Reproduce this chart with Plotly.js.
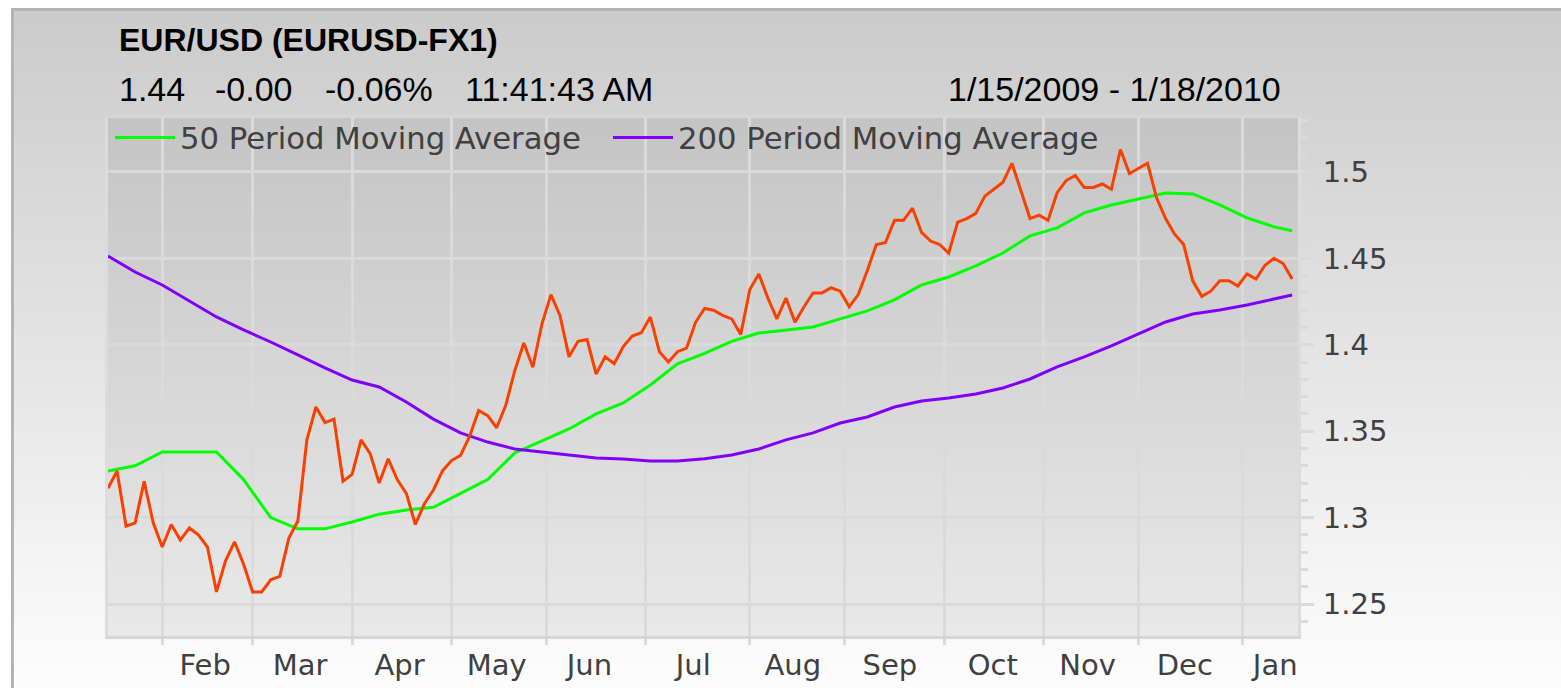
<!DOCTYPE html>
<html>
<head>
<meta charset="utf-8">
<script src="https://cdn.plot.ly/plotly-3.0.1.min.js"></script>
<style>
    html, body { margin: 0; padding: 0; background: #fff; overflow: hidden; }
    #frame {
        position: absolute; left: 11px; top: 8px; width: 1600px; height: 680px;
        border-left: 3px solid #b4b4b4; border-top: 3px solid #b4b4b4;
        background: linear-gradient(#cbcbcb, #fdfdfd);
    }
    #plotbg {
        position: absolute; left: 108px; top: 118px; width: 1190px; height: 518px;
        background: linear-gradient(#c4c4c4, #e9e9e9);
    }
    #chart { position: absolute; left: 0; top: 0; width: 1561px; height: 688px; }
</style>
</head>
<body>
<div id="frame"></div>
<div id="plotbg"></div>
<div id="chart"></div>
<script>
// EUR/USD close, one value every second trading day starting 1/15/2009
const priceStep = 2
const eurusd = [
    1.317, 1.327, 1.295, 1.297, 1.321, 1.297, 1.283, 1.296, 1.287, 1.294,
    1.290, 1.283, 1.257, 1.275, 1.286, 1.273, 1.257, 1.257, 1.264, 1.266,
    1.288, 1.298, 1.345, 1.364, 1.355, 1.357, 1.321, 1.325, 1.345, 1.337,
    1.320, 1.334, 1.322, 1.314, 1.296, 1.308, 1.316, 1.327, 1.333, 1.336,
    1.347, 1.362, 1.359, 1.352, 1.365, 1.385, 1.401, 1.387, 1.412, 1.429,
    1.417, 1.393, 1.402, 1.403, 1.383, 1.393, 1.389, 1.399, 1.405, 1.407,
    1.416, 1.396, 1.390, 1.396, 1.398, 1.413, 1.421, 1.420, 1.417, 1.415,
    1.406, 1.432, 1.441, 1.427, 1.415, 1.427, 1.413, 1.422, 1.430, 1.430,
    1.433, 1.431, 1.422, 1.429, 1.443, 1.458, 1.459, 1.472, 1.472, 1.479,
    1.465, 1.460, 1.458, 1.453, 1.471, 1.473, 1.476, 1.486, 1.490, 1.494,
    1.505, 1.489, 1.473, 1.475, 1.472, 1.488, 1.495, 1.498, 1.491, 1.491,
    1.493, 1.490, 1.513, 1.499, 1.502, 1.505, 1.485, 1.473, 1.464, 1.458,
    1.437, 1.428, 1.431, 1.437, 1.437, 1.434, 1.441, 1.438, 1.446, 1.450,
    1.447, 1.438
]

// moving averages, one value every sixth trading day plus the last day
const maStep = 6
const ma50 = [
    1.327, 1.330, 1.338, 1.338, 1.338, 1.322, 1.300, 1.2935, 1.2935, 1.2975,
    1.302, 1.3044, 1.306, 1.314, 1.322, 1.3374, 1.3443, 1.3513, 1.360, 1.3663,
    1.3767, 1.389, 1.395, 1.402, 1.4068, 1.4086, 1.4103, 1.415, 1.4196, 1.426,
    1.4346, 1.4392, 1.4456, 1.4531, 1.463, 1.4676, 1.4763, 1.4809, 1.4844, 1.4878,
    1.4873, 1.4809, 1.4734, 1.4682, 1.466
]
const ma200 = [
    1.4514, 1.4421, 1.4346, 1.4253, 1.4161, 1.4086, 1.4016, 1.3941, 1.3866, 1.3796,
    1.3756, 1.3669, 1.357, 1.349, 1.3437, 1.3397, 1.338, 1.3362, 1.3345, 1.3339,
    1.3328, 1.3328, 1.334, 1.3362, 1.3397, 1.345, 1.349, 1.3547, 1.3582, 1.364,
    1.3675, 1.3692, 1.3715, 1.375, 1.3802, 1.3872, 1.393, 1.3993, 1.4063, 1.4132,
    1.4178, 1.4201, 1.423, 1.4265, 1.4288
]

// first trading day of each month -> vertical grid
const monthStarts = [
    '2009-02-02', '2009-03-02', '2009-04-01', '2009-05-01', '2009-06-01', '2009-07-01',
    '2009-08-03', '2009-09-01', '2009-10-01', '2009-11-02', '2009-12-01', '2010-01-01'
]
const monthLabelDates = [
    '2009-02-13 12:00', '2009-03-16 12:00', '2009-04-15 12:00', '2009-05-15', '2009-06-12 12:00',
    '2009-07-15 12:00', '2009-08-14 12:00', '2009-09-15', '2009-10-15 18:00', '2009-11-13 18:00',
    '2009-12-15 06:00', '2010-01-12 06:00'
]
const monthLabels = ['Feb', 'Mar', 'Apr', 'May', 'Jun', 'Jul', 'Aug', 'Sep', 'Oct', 'Nov', 'Dec', 'Jan']

const yTicks = [1.25, 1.3, 1.35, 1.4, 1.45, 1.5]
const yTickLabels = ['1.25', '1.3', '1.35', '1.4', '1.45', '1.5']

const chartTitle = 'EUR/USD (EURUSD-FX1)'
const quoteItems = ['1.44', '-0.00', '-0.06%', '11:41:43 AM']
const dateRange = '1/15/2009 - 1/18/2010'

// weekdays only, the chart skips weekends
function tradingDays(from, to) {
    const days = []
    const d = new Date(from + 'T00:00:00Z')
    const end = new Date(to + 'T00:00:00Z')
    while (d <= end) {
        const wd = d.getUTCDay()
        if (wd !== 0 && wd !== 6) days.push(d.toISOString().slice(0, 10))
        d.setUTCDate(d.getUTCDate() + 1)
    }
    return days
}

const days = tradingDays('2009-01-15', '2010-01-18')
const priceDates = days.filter((_, i) => i % priceStep === 0)
const maDates = days.filter((_, i) => i % maStep === 0 || i === days.length - 1)

// plot area in pixels
const plotL = 108, plotR = 1298, plotT = 118, plotB = 636
const px = x => (x - plotL) / (plotR - plotL)
const py = y => (plotB - y) / (plotB - plotT)

const traces = [
    {
        name: '50 Period Moving Average',
        x: maDates, y: ma50,
        type: 'scatter', mode: 'lines',
        line: {color: '#00ff00', width: 3},
        hoverinfo: 'skip'
    },
    {
        name: '200 Period Moving Average',
        x: maDates, y: ma200,
        type: 'scatter', mode: 'lines',
        line: {color: '#8000ff', width: 3},
        hoverinfo: 'skip'
    },
    {
        name: 'EUR/USD',
        x: priceDates, y: eurusd,
        type: 'scatter', mode: 'lines',
        line: {color: '#fa4000', width: 3},
        showlegend: false,
        hoverinfo: 'skip'
    }
]

const tickFont = {family: 'DejaVu Sans', size: 29, color: '#404040'}
const gridColor = '#dadada'

const annotations = [
    {
        text: chartTitle, x: px(117), y: py(40), xanchor: 'left', yanchor: 'middle',
        font: {family: 'Liberation Sans', size: 32, color: '#000', weight: 'bold'}
    },
    {
        text: dateRange, x: px(1283), y: py(89), xanchor: 'right', yanchor: 'middle',
        font: {family: 'Liberation Sans', size: 34, color: '#000'}
    }
]
const quoteX = [117, 213, 323, 463]
for (let i = 0; i < quoteItems.length; i++) {
    annotations.push({
        text: quoteItems[i], x: px(quoteX[i]), y: py(89), xanchor: 'left', yanchor: 'middle',
        font: {family: 'Liberation Sans', size: 34, color: '#000'}
    })
}
annotations.forEach(a => { a.xref = 'paper'; a.yref = 'paper'; a.showarrow = false })

const layout = {
    width: 1561,
    height: 688,
    margin: {l: plotL, r: 1561 - plotR, t: plotT, b: 688 - plotB, pad: 0},
    paper_bgcolor: 'rgba(0,0,0,0)',
    plot_bgcolor: 'rgba(0,0,0,0)',
    showlegend: true,
    legend: {
        orientation: 'h',
        x: px(110), y: py(111), xanchor: 'left', yanchor: 'top',
        bgcolor: 'rgba(0,0,0,0)',
        font: {family: 'DejaVu Sans', size: 30.7, color: '#404040'},
        itemwidth: 60,
        entrywidth: 423,
        entrywidthmode: 'pixels'
    },
    xaxis: {
        type: 'date',
        range: ['2009-01-15', '2010-01-19 07:00'],
        rangebreaks: [{bounds: ['sat', 'mon']}],
        tickmode: 'array',
        tickvals: monthLabelDates,
        ticktext: monthLabels,
        ticks: '',
        showgrid: false,
        tickfont: tickFont,
        ticklabelstandoff: 1,
        minor: {
            tickmode: 'array',
            tickvals: monthStarts,
            showgrid: true,
            gridcolor: gridColor,
            gridwidth: 3,
            ticks: 'outside',
            ticklen: 6,
            tickwidth: 3,
            tickcolor: gridColor
        },
        showline: true,
        linecolor: '#d6d6d6',
        linewidth: 3,
        mirror: true,
        zeroline: false,
        fixedrange: true
    },
    yaxis: {
        side: 'right',
        range: [1.2315, 1.5312],
        tickmode: 'array',
        tickvals: yTicks,
        ticktext: yTickLabels,
        ticks: 'outside',
        ticklen: 13,
        tickwidth: 3,
        tickcolor: gridColor,
        showgrid: true,
        gridcolor: gridColor,
        gridwidth: 3,
        minor: {
            dtick: 0.01,
            ticks: 'outside',
            ticklen: 7,
            tickwidth: 3,
            tickcolor: gridColor,
            showgrid: false
        },
        tickfont: tickFont,
        ticklabelstandoff: 3,
        showline: true,
        linecolor: '#dcdcdc',
        linewidth: 3,
        mirror: true,
        zeroline: false,
        fixedrange: true
    },
    annotations: annotations
}

Plotly.newPlot('chart', traces, layout, {staticPlot: true, displayModeBar: false})
</script>
</body>
</html>
